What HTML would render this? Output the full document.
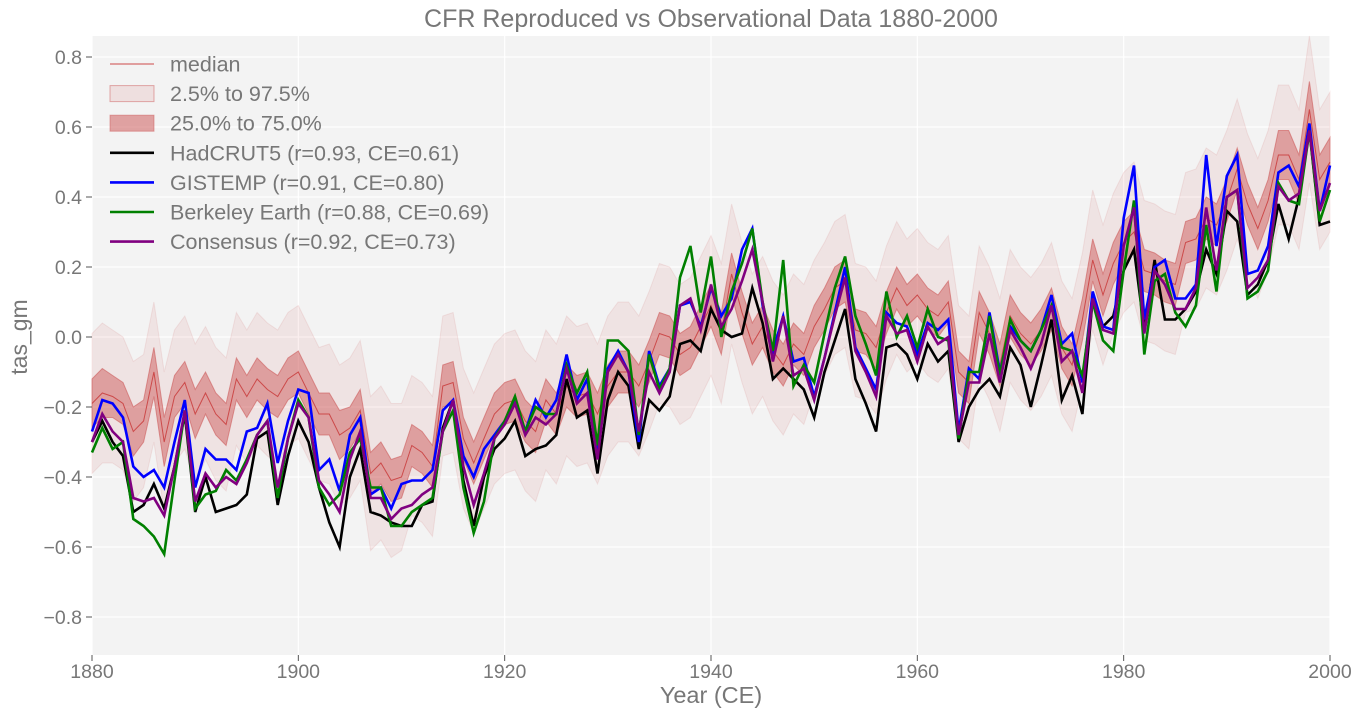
<!DOCTYPE html>
<html><head><meta charset="utf-8"><style>
html,body{margin:0;padding:0;background:#fff;}
svg text{font-family:"Liberation Sans",sans-serif;}
</style></head><body>
<svg id="chart" width="1364" height="719" xmlns="http://www.w3.org/2000/svg">
<rect x="92" y="36" width="1238" height="619" fill="#f3f3f3"/>
<g id="grid"></g>
<g id="bands"></g>
<g id="lines"></g>
<g id="axes"></g>
<text x="711" y="27" text-anchor="middle" font-size="25" fill="#777">CFR Reproduced vs Observational Data 1880-2000</text>
<text x="711" y="703" text-anchor="middle" font-size="23.5" fill="#777">Year (CE)</text>
<text transform="translate(27,337) rotate(-90)" text-anchor="middle" font-size="23" fill="#777">tas_gm</text>
<g id="legend"></g>
</svg>
<script>
const years = [];
for (let y = 1880; y <= 2000; y++) years.push(y);
const median = [-0.19,-0.16,-0.17,-0.19,-0.27,-0.24,-0.1,-0.3,-0.17,-0.13,-0.22,-0.16,-0.22,-0.25,-0.12,-0.17,-0.12,-0.15,-0.17,-0.12,-0.1,-0.16,-0.22,-0.22,-0.28,-0.26,-0.21,-0.39,-0.36,-0.41,-0.4,-0.31,-0.33,-0.37,-0.14,-0.13,-0.29,-0.36,-0.29,-0.22,-0.19,-0.18,-0.24,-0.27,-0.18,-0.22,-0.14,-0.17,-0.16,-0.22,-0.14,-0.1,-0.1,-0.14,-0.07,0.01,0.0,-0.05,-0.03,0.03,0.09,0.01,0.18,0.07,-0.02,0.03,-0.04,-0.08,-0.02,-0.05,0.03,0.08,0.14,0.16,0.02,0.01,-0.03,0.07,0.14,0.09,0.12,0.08,0.06,0.1,-0.1,-0.13,0.07,0.01,-0.08,0.06,0.01,-0.02,0.02,0.08,-0.03,-0.08,0.05,0.22,0.12,0.21,0.27,0.3,0.19,0.18,0.16,0.15,0.27,0.28,0.34,0.32,0.39,0.48,0.38,0.31,0.39,0.52,0.52,0.45,0.65,0.45,0.5];
const iqrHalf = [0.07,0.07,0.06,0.06,0.07,0.06,0.07,0.07,0.06,0.06,0.07,0.06,0.06,0.06,0.06,0.06,0.06,0.06,0.06,0.06,0.06,0.06,0.06,0.06,0.07,0.06,0.06,0.06,0.06,0.06,0.06,0.06,0.06,0.06,0.06,0.06,0.06,0.06,0.06,0.06,0.06,0.06,0.06,0.06,0.06,0.06,0.06,0.06,0.06,0.06,0.06,0.06,0.06,0.06,0.06,0.06,0.06,0.06,0.06,0.06,0.06,0.06,0.06,0.06,0.06,0.06,0.06,0.06,0.06,0.06,0.06,0.06,0.06,0.06,0.06,0.06,0.06,0.06,0.06,0.06,0.06,0.06,0.06,0.06,0.06,0.06,0.06,0.06,0.06,0.06,0.06,0.06,0.06,0.06,0.06,0.06,0.06,0.06,0.06,0.06,0.06,0.06,0.06,0.06,0.06,0.06,0.06,0.06,0.06,0.06,0.06,0.06,0.06,0.06,0.06,0.07,0.07,0.07,0.08,0.07,0.07];
const ciHalf = [0.2,0.2,0.19,0.19,0.2,0.19,0.2,0.2,0.19,0.19,0.2,0.19,0.19,0.19,0.19,0.19,0.19,0.19,0.19,0.19,0.19,0.19,0.19,0.2,0.2,0.2,0.2,0.22,0.22,0.22,0.21,0.2,0.2,0.2,0.2,0.2,0.2,0.2,0.2,0.2,0.2,0.2,0.2,0.2,0.2,0.2,0.2,0.2,0.2,0.2,0.2,0.2,0.2,0.2,0.2,0.2,0.2,0.2,0.2,0.2,0.2,0.2,0.2,0.2,0.2,0.2,0.2,0.2,0.2,0.2,0.19,0.19,0.19,0.19,0.19,0.19,0.19,0.19,0.19,0.19,0.19,0.19,0.19,0.19,0.19,0.19,0.19,0.19,0.19,0.19,0.19,0.19,0.19,0.19,0.19,0.19,0.19,0.2,0.2,0.2,0.2,0.2,0.2,0.2,0.2,0.2,0.2,0.2,0.2,0.2,0.2,0.2,0.2,0.2,0.2,0.2,0.2,0.2,0.21,0.2,0.2];
const hadcrut = [-0.3,-0.24,-0.3,-0.34,-0.5,-0.48,-0.42,-0.49,-0.37,-0.22,-0.5,-0.4,-0.5,-0.49,-0.48,-0.45,-0.29,-0.27,-0.48,-0.34,-0.24,-0.3,-0.43,-0.53,-0.6,-0.4,-0.32,-0.5,-0.51,-0.53,-0.54,-0.54,-0.48,-0.47,-0.26,-0.18,-0.41,-0.54,-0.4,-0.32,-0.29,-0.24,-0.34,-0.32,-0.31,-0.28,-0.12,-0.23,-0.21,-0.39,-0.18,-0.1,-0.14,-0.32,-0.18,-0.21,-0.17,-0.02,-0.01,-0.04,0.08,0.02,0.0,0.01,0.14,0.04,-0.12,-0.09,-0.12,-0.15,-0.23,-0.1,-0.01,0.08,-0.12,-0.19,-0.27,-0.03,-0.02,-0.05,-0.12,-0.02,-0.07,-0.04,-0.3,-0.2,-0.15,-0.12,-0.17,-0.03,-0.08,-0.2,-0.08,0.05,-0.18,-0.11,-0.22,0.11,0.03,0.06,0.19,0.25,0.02,0.22,0.05,0.05,0.08,0.13,0.25,0.18,0.36,0.33,0.12,0.15,0.22,0.38,0.28,0.4,0.59,0.32,0.33];
const gistemp = [-0.27,-0.18,-0.19,-0.23,-0.37,-0.4,-0.38,-0.43,-0.3,-0.18,-0.43,-0.32,-0.35,-0.35,-0.38,-0.27,-0.26,-0.19,-0.36,-0.24,-0.15,-0.16,-0.38,-0.35,-0.44,-0.28,-0.23,-0.45,-0.43,-0.49,-0.42,-0.41,-0.41,-0.38,-0.21,-0.18,-0.34,-0.4,-0.32,-0.28,-0.24,-0.18,-0.27,-0.18,-0.23,-0.18,-0.05,-0.18,-0.12,-0.33,-0.09,-0.04,-0.1,-0.3,-0.04,-0.14,-0.09,0.09,0.1,0.03,0.14,0.06,0.11,0.25,0.31,0.09,-0.04,0.06,-0.07,-0.06,-0.17,-0.06,0.07,0.2,-0.03,-0.09,-0.15,0.07,0.04,0.03,-0.05,0.04,0.02,0.05,-0.27,-0.09,-0.12,0.07,-0.1,0.03,-0.01,-0.04,0.02,0.12,-0.02,0.01,-0.13,0.13,0.03,0.02,0.34,0.49,0.05,0.2,0.22,0.11,0.11,0.15,0.52,0.26,0.46,0.52,0.18,0.19,0.26,0.47,0.49,0.43,0.61,0.36,0.49];
const berkeley = [-0.33,-0.26,-0.32,-0.3,-0.52,-0.54,-0.57,-0.62,-0.41,-0.21,-0.49,-0.45,-0.44,-0.38,-0.41,-0.35,-0.28,-0.24,-0.46,-0.29,-0.18,-0.23,-0.43,-0.48,-0.45,-0.33,-0.29,-0.43,-0.43,-0.54,-0.54,-0.5,-0.48,-0.46,-0.27,-0.21,-0.43,-0.56,-0.47,-0.29,-0.24,-0.17,-0.27,-0.2,-0.22,-0.22,-0.08,-0.16,-0.1,-0.31,-0.01,-0.01,-0.04,-0.28,-0.05,-0.15,-0.09,0.17,0.26,0.07,0.23,0.0,0.13,0.21,0.31,0.1,-0.04,0.22,-0.14,-0.08,-0.13,0.01,0.14,0.23,0.06,-0.02,-0.11,0.13,0.0,0.06,-0.03,0.08,0.0,-0.01,-0.29,-0.1,-0.1,0.06,-0.11,0.05,-0.01,-0.04,0.02,0.09,-0.03,-0.04,-0.11,0.1,-0.01,-0.04,0.19,0.39,-0.05,0.16,0.18,0.07,0.03,0.09,0.32,0.13,0.4,0.42,0.11,0.13,0.19,0.44,0.39,0.38,0.59,0.33,0.42];
const consensus = [-0.3,-0.22,-0.27,-0.3,-0.46,-0.47,-0.46,-0.51,-0.37,-0.21,-0.47,-0.39,-0.43,-0.4,-0.42,-0.36,-0.28,-0.24,-0.43,-0.29,-0.19,-0.23,-0.41,-0.45,-0.5,-0.35,-0.27,-0.46,-0.46,-0.52,-0.49,-0.48,-0.45,-0.43,-0.27,-0.18,-0.37,-0.48,-0.39,-0.29,-0.25,-0.19,-0.28,-0.23,-0.25,-0.22,-0.09,-0.19,-0.16,-0.35,-0.1,-0.05,-0.1,-0.27,-0.1,-0.16,-0.1,0.09,0.11,0.02,0.15,0.03,0.08,0.16,0.25,0.1,-0.07,0.06,-0.11,-0.09,-0.18,-0.06,0.06,0.17,-0.04,-0.1,-0.17,0.06,0.01,0.02,-0.07,0.03,-0.02,0.0,-0.28,-0.13,-0.13,0.01,-0.13,0.02,-0.03,-0.09,-0.02,0.09,-0.07,-0.04,-0.16,0.11,0.02,0.01,0.26,0.37,0.01,0.19,0.15,0.08,0.08,0.14,0.37,0.19,0.4,0.42,0.14,0.17,0.22,0.43,0.39,0.41,0.59,0.36,0.44];
const xTicks = [1880,1900,1920,1940,1960,1980,2000];
const yTicks = [-0.8,-0.6,-0.4,-0.2,0.0,0.2,0.4,0.6,0.8];
const yTickLabels = ["\u22120.8","\u22120.6","\u22120.4","\u22120.2","0.0","0.2","0.4","0.6","0.8"];

const X0=92,X1=1330,Y0=36,Y1=655,YMIN=-0.9086,YMAX=0.86;
const sx = yr => X0 + (yr-1880)/(2000-1880)*(X1-X0);
const sy = v => Y1 - (v-YMIN)/(YMAX-YMIN)*(Y1-Y0);
const NS="http://www.w3.org/2000/svg";
function mk(tag, attrs, parent){const e=document.createElementNS(NS,tag);for(const k in attrs)e.setAttribute(k,attrs[k]);parent.appendChild(e);return e;}

const grid=document.getElementById('grid'), axes=document.getElementById('axes');
yTicks.forEach((t,i)=>{
  const y=sy(t);
  const g=mk('line',{x1:X0,x2:X1,y1:y,y2:y,stroke:'#fff','stroke-width':1.2},grid);
  
  
  const tk=mk('line',{x1:X0-6,x2:X0,y1:y,y2:y,stroke:'#555','stroke-width':1},axes);
  
  
  const tx=mk('text',{x:X0-10,y:y+7,'text-anchor':'end','font-size':19.5,fill:'#777'},axes);
  tx.textContent=yTickLabels[i];
  
  
});
xTicks.forEach(t=>{
  const x=sx(t);
  const g=mk('line',{x1:x,x2:x,y1:Y0,y2:Y1,stroke:'#fff','stroke-width':1.2},grid);
  
  
  const tk=mk('line',{x1:x,x2:x,y1:Y1,y2:Y1+6,stroke:'#555','stroke-width':1},axes);
  
  
  const tx=mk('text',{x:x,y:Y1+23,'text-anchor':'middle','font-size':19.5,fill:'#777'},axes);
  tx.textContent=String(t);
  
  
});

function bandPath(half){
  let up=years.map((y,i)=>sx(y).toFixed(1)+','+sy(median[i]+half[i]).toFixed(1));
  let dn=years.map((y,i)=>sx(y).toFixed(1)+','+sy(median[i]-half[i]).toFixed(1)).reverse();
  return 'M'+up.join('L')+'L'+dn.join('L')+'Z';
}
const bands=document.getElementById('bands');
const b1=mk('path',{d:bandPath(ciHalf),fill:'rgba(205,92,92,0.1)',stroke:'rgba(205,92,92,0.12)'},bands);


const b2=mk('path',{d:bandPath(iqrHalf),fill:'rgba(205,92,92,0.5)',stroke:'rgba(205,92,92,0.6)'},bands);



function linePath(vals){return 'M'+years.map((y,i)=>sx(y).toFixed(1)+','+sy(vals[i]).toFixed(1)).join('L');}
const lines=document.getElementById('lines');
const med=mk('path',{d:linePath(median),fill:'none',stroke:'#cc4a4a','stroke-width':1},lines);


const series=[[hadcrut,'#000','hadcrut5-line'],[gistemp,'#0000ff','gistemp-line'],[berkeley,'#008000','berkeley-earth-line'],[consensus,'#800080','consensus-line']];
series.forEach(s=>{
  const p=mk('path',{d:linePath(s[0]),fill:'none',stroke:s[1],'stroke-width':2.6,'stroke-linejoin':'miter'},lines);
  
  
});

const legend=document.getElementById('legend');
const entries=[['line','#cc4a4a',1,'median'],['band','rgba(205,92,92,0.13)',0,'2.5% to 97.5%'],['band','rgba(205,92,92,0.55)',0,'25.0% to 75.0%'],['line','#000',2.6,'HadCRUT5 (r=0.93, CE=0.61)'],['line','#0000ff',2.6,'GISTEMP (r=0.91, CE=0.80)'],['line','#008000',2.6,'Berkeley Earth (r=0.88, CE=0.69)'],['line','#800080',2.6,'Consensus (r=0.92, CE=0.73)']];
entries.forEach((e,i)=>{
  const y=64+i*29.6;
  let h;
  if(e[0]==='line') h=mk('line',{x1:110,x2:154,y1:y,y2:y,stroke:e[1],'stroke-width':e[2]},legend);
  else h=mk('rect',{x:110,y:y-8,width:44,height:16,fill:e[1],stroke:'rgba(205,92,92,0.5)'},legend);
  
  
  const t=mk('text',{x:170,y:y+7.5,'font-size':21.5,fill:'#777'},legend);
  t.textContent=e[3];
  
  
});
</script>
</body></html>
